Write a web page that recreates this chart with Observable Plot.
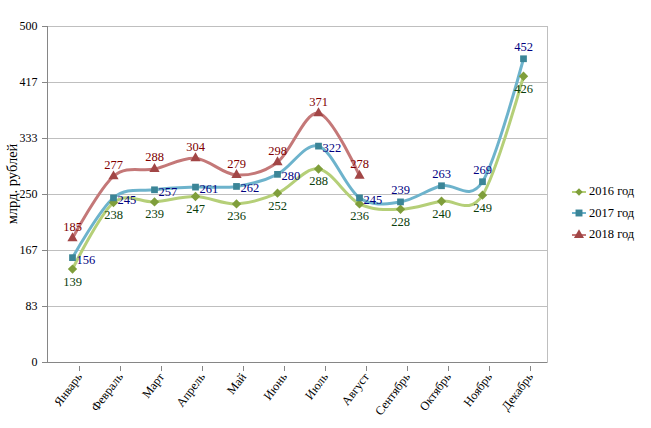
<!DOCTYPE html>
<html>
<head>
<meta charset="utf-8">
<script src="https://cdn.jsdelivr.net/npm/d3@7"></script>
<script src="https://cdn.jsdelivr.net/npm/@observablehq/plot@0.6"></script>
<style>
  body { margin: 0; background: #fff; }
  #wrap { position: relative; width: 651px; height: 428px; font-family: 'Liberation Serif', 'Times New Roman', serif; }
  #wrap svg text { font-family: 'Liberation Serif', 'Times New Roman', serif !important; }
  #legend { position: absolute; left: 572px; top: 181px; font-size: 12.5px; color: #000; font-family: 'Liberation Serif', 'Times New Roman', serif; }
  .item { display: flex; align-items: center; height: 21.5px; }
  .item svg { margin-right: 3px; }
  #ylabel { position: absolute; left: 12px; top: 184px; transform: translate(-50%, -50%) rotate(-90deg); white-space: nowrap; font-size: 14.5px; color: #000; line-height: 1; }
</style>
</head>
<body>
<div id="wrap"><div id="legend"></div><div id="ylabel"></div></div>
<script>
const months = ["Январь","Февраль","Март","Апрель","Май","Июнь","Июль","Август","Сентябрь","Октябрь","Ноябрь","Декабрь"];
const v2016 = [139, 238, 239, 247, 236, 252, 288, 236, 228, 240, 249, 426];
const v2017 = [156, 245, 257, 261, 262, 280, 322, 245, 239, 263, 269, 452];
const v2018 = [185, 277, 288, 304, 279, 298, 371, 278];
const yTicks = [0, 500/6, 1000/6, 250, 2000/6, 2500/6, 500];
const seriesNames = ["2016 год", "2017 год", "2018 год"];
const yTitle = "млрд. рублей";

const d16 = v2016.map((v, i) => ({m: months[i], v}));
const d17 = v2017.map((v, i) => ({m: months[i], v}));
const d18 = v2018.map((v, i) => ({m: months[i], v}));

const c = {
  l16: "#b5cf78", m16: "#7f9e3b", t16: "#0b3d0b",
  l17: "#6db3cc", m17: "#3b8597", t17: "#00007f",
  l18: "#c47878", m18: "#a24646", t18: "#800000"
};
const font = "'Liberation Serif', 'Times New Roman', serif";
const fs = 12.5;

const split = d17.slice(0, 8), split2 = d17.slice(8);

const chart = Plot.plot({
  width: 651,
  height: 428,
  marginLeft: 47,
  marginRight: 104,
  marginTop: 26,
  marginBottom: 66,
  style: {fontFamily: font, background: "#fff", color: "#000"},
  x: {type: "point", domain: months, padding: 0.5},
  y: {domain: [0, 500]},
  marks: [
    Plot.gridY(yTicks, {stroke: "#bfbfbf", strokeOpacity: 1}),
    Plot.frame({stroke: "#bfbfbf"}),
    Plot.frame({anchor: "left", stroke: "#868686"}),
    Plot.ruleY([0], {stroke: "#868686"}),
    Plot.axisY({ticks: yTicks, tickFormat: d => Math.round(d), tickSize: 5, tickPadding: 5, fontSize: 12,
      stroke: "#868686", label: null}),
    Plot.axisX({tickRotate: -53, tickSize: 5, tickPadding: 3, dx: 7, dy: 4, fontSize: 12.3, stroke: "#868686", label: null}),
    Plot.line(d16, {x: "m", y: "v", stroke: c.l16, strokeWidth: 3, curve: "cardinal", tension: 0}),
    Plot.line(d17, {x: "m", y: "v", stroke: c.l17, strokeWidth: 3, curve: "cardinal", tension: 0}),
    Plot.line(d18, {x: "m", y: "v", stroke: c.l18, strokeWidth: 3, curve: "cardinal", tension: 0}),
    Plot.dot(d16, {x: "m", y: "v", symbol: "diamond2", fill: c.m16, stroke: "none", r: 4.2}),
    Plot.dot(d17, {x: "m", y: "v", symbol: "square", fill: c.m17, r: 3.8}),
    Plot.dot(d18, {x: "m", y: "v", symbol: "triangle", fill: c.m18, r: 3.8}),
    Plot.text(d16, {x: "m", y: "v", text: "v", fill: c.t16, dy: 12.5, fontSize: fs}),
    Plot.text(split, {x: "m", y: "v", text: "v", fill: c.t17, dx: 4, dy: 2, textAnchor: "start", fontSize: fs}),
    Plot.text(split2, {x: "m", y: "v", text: "v", fill: c.t17, dy: -11.5, fontSize: fs}),
    Plot.text(d18, {x: "m", y: "v", text: "v", fill: c.t18, dy: -11.5, fontSize: fs})
  ]
});
document.getElementById("wrap").prepend(chart);
document.getElementById("ylabel").textContent = yTitle;

// legend
const sym = [
  {name: seriesNames[0], line: c.l16, mark: c.m16, s: d3.symbolDiamond2, size: 36},
  {name: seriesNames[1], line: c.l17, mark: c.m17, s: d3.symbolSquare, size: 48},
  {name: seriesNames[2], line: c.l18, mark: c.m18, s: d3.symbolTriangle, size: 44}
];
const leg = d3.select("#legend");
sym.forEach(d => {
  const it = leg.append("div").attr("class", "item");
  const svg = it.append("svg").attr("width", 14).attr("height", 12);
  svg.append("line").attr("x1", 0).attr("x2", 14).attr("y1", 6).attr("y2", 6).attr("stroke", d.line).attr("stroke-width", 2);
  svg.append("path").attr("d", d3.symbol(d.s, d.size)()).attr("transform", "translate(7,6)").attr("fill", d.mark);
  it.append("span").text(d.name);
});
</script>
</body>
</html>
